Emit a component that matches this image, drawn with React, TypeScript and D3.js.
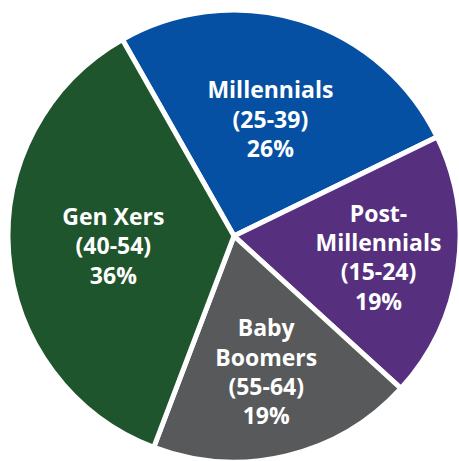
import React from "react";
import * as d3 from "d3";

const categories = ["Millennials", "Post-Millennials", "Baby Boomers", "Gen Xers"];
const labelLines = [
  ["Millennials", "(25-39)", "26%"],
  ["Post-", "Millennials", "(15-24)", "19%"],
  ["Baby", "Boomers", "(55-64)", "19%"],
  ["Gen Xers", "(40-54)", "36%"],
];
const values = [26, 19, 19, 36];
const colors = ["#0550A3", "#56307E", "#58595B", "#1F552C"];
const labelRadii = [123, 146, 139, 121];

export default function App() {
  const W = 459, H = 461;
  const cx = 234, cy = 236, R = 226;
  const start = (-29.6 * Math.PI) / 180;
  const pie = d3.pie<number>().sort(null).value((d) => d).startAngle(start).endAngle(start + 2 * Math.PI);
  const arcs = pie(values);
  const arc = d3.arc<d3.PieArcDatum<number>>().innerRadius(0).outerRadius(R);
  const lh = 29.3;
  return (
    <svg width={W} height={H} style={{ position: "absolute", left: 0, top: 0, background: "#fff" }}>
      <g transform={`translate(${cx},${cy})`}>
        {arcs.map((a, i) => (
          <path key={categories[i]} d={arc(a) || ""} fill={colors[i]} stroke="#fff" strokeWidth={5} strokeLinejoin="miter" />
        ))}
        {arcs.map((a, i) => {
          const c = d3.arc<d3.PieArcDatum<number>>().innerRadius(labelRadii[i]).outerRadius(labelRadii[i]).centroid(a);
          const lines = labelLines[i];
          const y0 = c[1] - ((lines.length - 1) * lh) / 2 + 9;
          return (
            <text key={"l" + i} textAnchor="middle" fill="#fff" fontFamily="'Open Sans', sans-serif" fontWeight={700} fontSize={23}>
              {lines.map((t, j) => (
                <tspan key={j} x={c[0]} y={y0 + j * lh}>{t}</tspan>
              ))}
            </text>
          );
        })}
      </g>
    </svg>
  );
}
